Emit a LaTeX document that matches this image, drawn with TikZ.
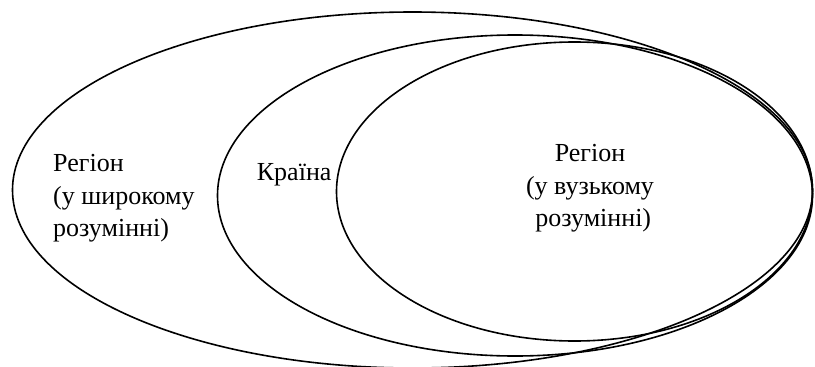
\documentclass[tikz,border=0pt]{standalone}
\usepackage{fontspec}
\setmainfont{Liberation Serif}
\newfontfamily\timesfont{Liberation Serif}
\begin{document}
\begin{tikzpicture}[x=1pt,y=-1pt,
  ring/.style={draw=black,line width=1.6pt},
  lbl/.style={inner sep=0pt,font=\timesfont\fontsize{26}{32.5}\selectfont}]
\useasboundingbox (0,0) rectangle (815,367);
\clip (0,0) rectangle (815,367);
\draw[ring] (412.5,190) ellipse [x radius=400, y radius=178];
\draw[ring] (515,195.5) ellipse [x radius=297.5, y radius=160.5];
\draw[ring] (574.5,191.5) ellipse [x radius=238, y radius=149.5];
\node[lbl,anchor=base west] (wide) at (53,171.7) {\begin{tabular}[t]{@{}l@{}}Регіон\\(у широкому\\розумінні)\end{tabular}};
\node[lbl,anchor=base west] (country) at (256.7,180) {Країна};
\node[lbl,anchor=base] (narrow) at (590,161.7) {\begin{tabular}[t]{@{}c@{}}Регіон\\(у вузькому\\\ розумінні)\end{tabular}};
\end{tikzpicture}
\end{document}
